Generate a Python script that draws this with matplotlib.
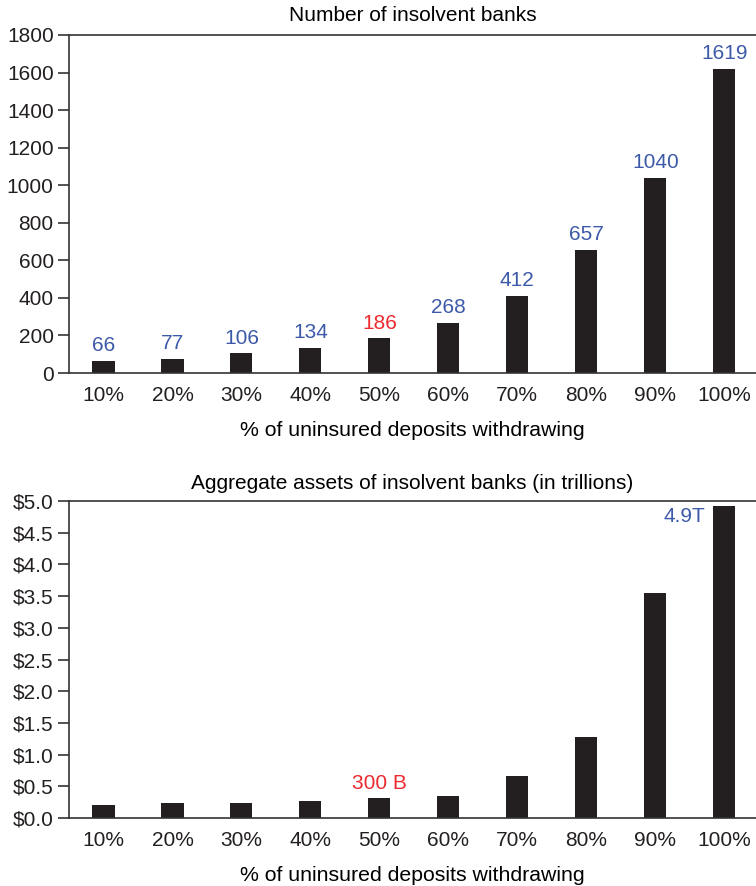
import matplotlib
matplotlib.use("Agg")
import matplotlib.pyplot as plt
import numpy as np

plt.rcParams["font.family"] = ["Liberation Sans", "DejaVu Sans"]

# ── data ──────────────────────────────────────────────────────────────────────
categories = ["10%", "20%", "30%", "40%", "50%", "60%", "70%", "80%", "90%", "100%"]
n_insolvent = [66, 77, 106, 134, 186, 268, 412, 657, 1040, 1619]
assets_trn = [0.20, 0.245, 0.245, 0.27, 0.31, 0.34, 0.66, 1.28, 3.55, 4.92]
count_ticks = [0, 200, 400, 600, 800, 1000, 1200, 1400, 1600, 1800]
asset_ticks = [0.0, 0.5, 1.0, 1.5, 2.0, 2.5, 3.0, 3.5, 4.0, 4.5, 5.0]

# ── style ─────────────────────────────────────────────────────────────────────
C_BAR = "#231f20"
C_BLUE = "#3d5aa8"
C_RED = "#ec2a2f"
C_AX = "#333333"
FS = 15

fig = plt.figure(figsize=(7.56, 8.86), dpi=100)
ax1 = fig.add_axes([0.0913, 0.579, 0.9087, 0.3815])
ax2 = fig.add_axes([0.0913, 0.0767, 0.9087, 0.3578])

x = np.arange(len(categories))


def _style(ax):
    ax.spines["right"].set_visible(False)
    for side in ("left", "top", "bottom"):
        ax.spines[side].set_color(C_AX)
        ax.spines[side].set_linewidth(1.2)
    ax.tick_params(axis="y", direction="out", length=8, width=1.2,
                   color=C_AX, labelsize=FS, labelcolor="#231f20", pad=3)
    ax.tick_params(axis="x", length=0, labelsize=FS, labelcolor="#231f20", pad=9)
    ax.set_xticks(x)
    ax.set_xticklabels(categories)
    ax.set_xlim(-0.5, 9.46)


# ── panel 1: number of insolvent banks ────────────────────────────────────────
ax1.bar(x, n_insolvent, width=0.32, color=C_BAR)
ax1.set_ylim(0, 1800)
ax1.set_yticks(count_ticks)
_style(ax1)
for i, v in enumerate(n_insolvent):
    ax1.annotate(f"{v}", (x[i], v), xytext=(0, 4), textcoords="offset points",
                 ha="center", va="bottom", fontsize=FS,
                 color=C_RED if categories[i] == "50%" else C_BLUE)
ax1.set_title("Number of insolvent banks", fontsize=FS, pad=10)
ax1.set_xlabel("% of uninsured deposits withdrawing", fontsize=FS + 0.3, labelpad=12)

# ── panel 2: aggregate assets ─────────────────────────────────────────────────
ax2.bar(x, assets_trn, width=0.32, color=C_BAR)
ax2.set_ylim(0, 5.0)
ax2.set_yticks(asset_ticks)
ax2.set_yticklabels([f"${t:.1f}" for t in asset_ticks])
_style(ax2)
ax2.annotate("300 B", (x[4], assets_trn[4]), xytext=(0, 4), textcoords="offset points",
             ha="center", va="bottom", fontsize=FS, color=C_RED)
ax2.annotate("4.9T", (x[9], assets_trn[9]), xytext=(-14, -1), textcoords="offset points",
             ha="right", va="top", fontsize=FS, color=C_BLUE)
ax2.set_title("Aggregate assets of insolvent banks (in trillions)", fontsize=FS, pad=9)
ax2.set_xlabel("% of uninsured deposits withdrawing", fontsize=FS + 0.3, labelpad=12)

fig.savefig("out.png", dpi=100)
